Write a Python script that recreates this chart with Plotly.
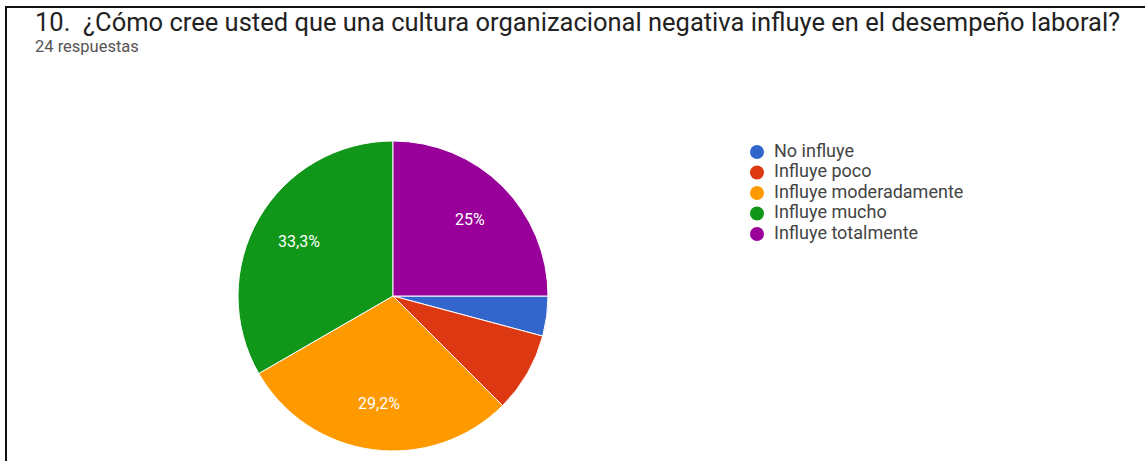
import math
import plotly.graph_objects as go

W, H = 1145, 461

title = "10.&nbsp; ¿Cómo cree usted que una cultura organizacional negativa influye en el desempeño laboral?"
subtitle = "24 respuestas"

categories = ["No influye", "Influye poco", "Influye moderadamente", "Influye mucho", "Influye totalmente"]
counts = [1, 2, 7, 8, 6]
colors = ["#3366CC", "#DC3912", "#FF9900", "#109618", "#990099"]

total = sum(counts)


def pct_label(v):
    p = v / total * 100
    if p < 10:
        return ""
    s = f"{p:.1f}".replace(".", ",")
    if s.endswith(",0"):
        s = s[:-2]
    return s + "%"


def px_x(x):
    return x / W


def px_y(y):
    return 1 - y / H


fig = go.Figure()

# pie geometry (pixels)
cx, cy, r = 393, 296, 155
start_deg = 90  # first slice starts at 3 o'clock, running clockwise

fig.add_trace(go.Pie(
    labels=categories,
    values=counts,
    textinfo="none",
    marker=dict(colors=colors, line=dict(color="white", width=1)),
    sort=False,
    direction="clockwise",
    rotation=start_deg,
    showlegend=False,
    hoverinfo="label+percent",
    domain=dict(x=[px_x(cx - r), px_x(cx + r)], y=[px_y(cy + r), px_y(cy - r)]),
))

# percentage labels placed at each slice's mid-angle
annotations = []
acc = 0
for v in counts:
    mid = start_deg + (acc + v / 2) / total * 360
    acc += v
    txt = pct_label(v)
    if not txt:
        continue
    a = math.radians(mid)
    lx = cx + 0.7 * r * math.sin(a)
    ly = cy - 0.7 * r * math.cos(a)
    annotations.append(dict(
        text=txt, x=px_x(lx), y=px_y(ly), xref="paper", yref="paper",
        xanchor="center", yanchor="middle", showarrow=False,
        font=dict(family="Roboto", size=16, color="white"),
    ))

# legend: circle markers with labels, one row per category
row_idx = list(range(len(categories)))
fig.add_trace(go.Scatter(
    x=[17] * len(categories), y=row_idx, mode="markers",
    marker=dict(color=colors, size=14, symbol="circle", line=dict(width=0)),
    xaxis="x", yaxis="y", showlegend=False, hoverinfo="skip",
))
fig.add_trace(go.Scatter(
    x=[34] * len(categories), y=row_idx, mode="text", text=categories,
    textposition="middle right",
    textfont=dict(family="Roboto", size=18, color="#444444"),
    xaxis="x", yaxis="y", showlegend=False, hoverinfo="skip",
))

annotations += [
    dict(text=title, x=px_x(33), y=px_y(22), xref="paper", yref="paper",
         xanchor="left", yanchor="middle", showarrow=False,
         font=dict(family="Roboto", size=25.5, color="#222222")),
    dict(text=subtitle, x=px_x(33), y=px_y(46), xref="paper", yref="paper",
         xanchor="left", yanchor="middle", showarrow=False,
         font=dict(family="Roboto", size=16.5, color="#555555")),
]

fig.update_layout(
    width=W, height=H,
    margin=dict(l=0, r=0, t=0, b=0),
    paper_bgcolor="white",
    plot_bgcolor="rgba(0,0,0,0)",
    showlegend=False,
    xaxis=dict(visible=False, domain=[px_x(740), px_x(1040)], range=[0, 300], fixedrange=True),
    yaxis=dict(visible=False, domain=[px_y(254.5), px_y(131.5)], range=[5, -1], fixedrange=True),
    annotations=annotations,
    shapes=[
        dict(type="line", xref="paper", yref="paper",
             x0=px_x(5), x1=1, y0=px_y(7), y1=px_y(7),
             line=dict(color="#111111", width=2)),
        dict(type="line", xref="paper", yref="paper",
             x0=px_x(6), x1=px_x(6), y0=px_y(6), y1=0,
             line=dict(color="#111111", width=2)),
    ],
)

fig.write_html("out.html")
